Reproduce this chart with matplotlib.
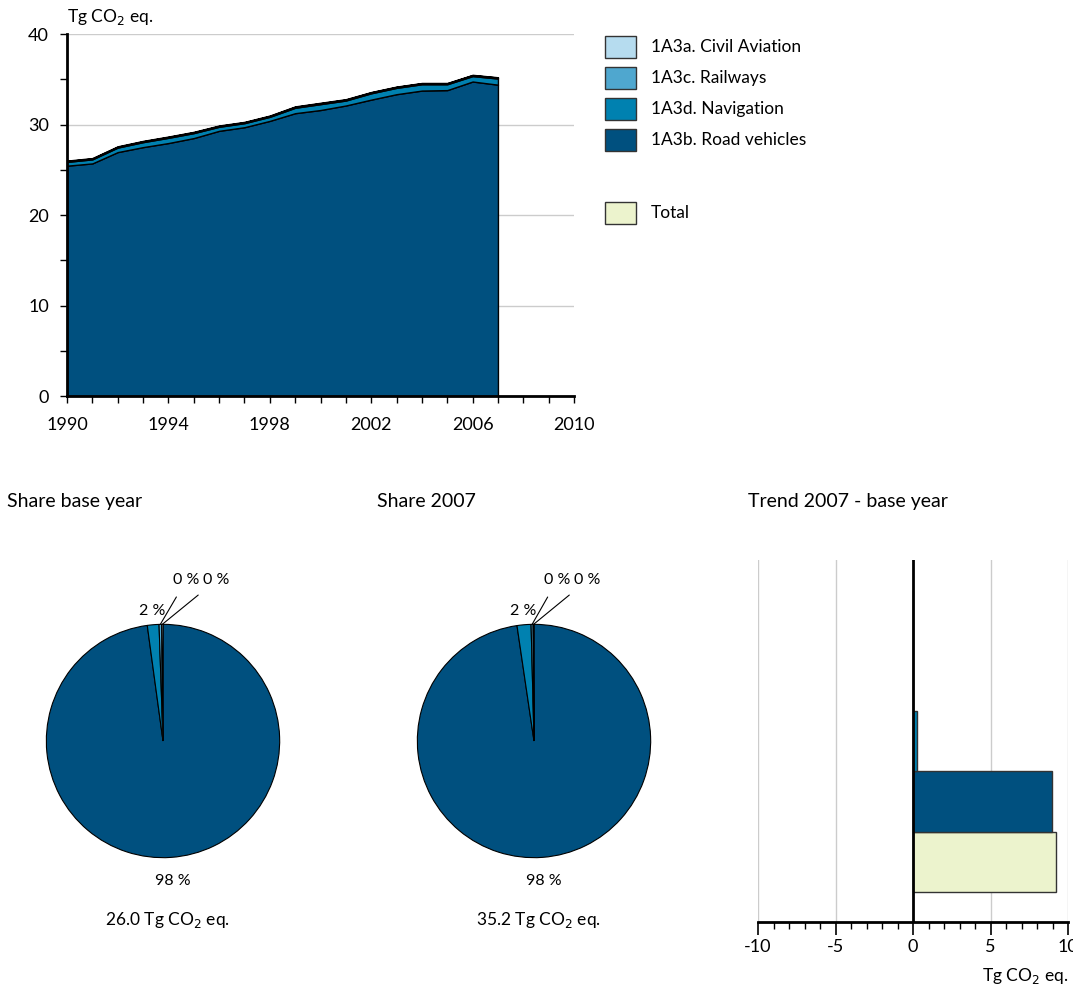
import matplotlib
matplotlib.use('Agg')
import matplotlib.pyplot as plt
import numpy as np
from matplotlib.patches import Patch
from matplotlib.ticker import MultipleLocator

plt.rcParams['font.family'] = ['Lato', 'DejaVu Sans']
plt.rcParams['axes.unicode_minus'] = False

years = list(range(1990, 2008))
road = [25.45, 25.7, 26.95, 27.5, 27.95, 28.5, 29.3, 29.7, 30.4, 31.25,
        31.6, 32.1, 32.75, 33.35, 33.75, 33.8, 34.75, 34.4]
navigation = [0.42, 0.45, 0.5, 0.55, 0.58, 0.55, 0.45, 0.45, 0.45, 0.6,
              0.65, 0.55, 0.7, 0.7, 0.7, 0.65, 0.6, 0.68]
railways = [0.09, 0.09, 0.09, 0.09, 0.09, 0.09, 0.09, 0.09, 0.09, 0.1,
            0.1, 0.1, 0.1, 0.1, 0.1, 0.1, 0.1, 0.1]
aviation = [0.05, 0.05, 0.05, 0.05, 0.05, 0.05, 0.05, 0.05, 0.05, 0.05,
            0.05, 0.05, 0.04, 0.04, 0.04, 0.04, 0.04, 0.04]
year_ticks = [1990, 1994, 1998, 2002, 2006, 2010]

names = ['1A3b. Road vehicles', '1A3d. Navigation', '1A3c. Railways', '1A3a. Civil Aviation']
colors = ['#00507f', '#0081b0', '#4fa7cf', '#b6dcef']
total_color = '#ecf3cd'
grid_color = '#cccccc'
unit = 'Tg CO$_2$ eq.'

series = [road, navigation, railways, aviation]
total = np.sum(series, axis=0)

fig = plt.figure(figsize=(10.73, 9.89), dpi=100)

# --- stacked area ---
ax = fig.add_axes([67 / 1073, 1 - 396 / 989, 507 / 1073, 362 / 989])
ax.stackplot(years, *series, colors=colors, edgecolor='black', linewidth=1)
ax.set_xlim(1990, 2010)
ax.set_ylim(0, 40)
ax.set_xticks(year_ticks)
ax.xaxis.set_minor_locator(MultipleLocator(1))
ax.yaxis.set_major_locator(MultipleLocator(10))
ax.yaxis.set_minor_locator(MultipleLocator(5))
ax.tick_params(which='both', direction='out', length=5, width=1, labelsize=13)
ax.tick_params(axis='x', pad=10)
ax.tick_params(axis='y', pad=8)
ax.grid(axis='y', color=grid_color, linewidth=1)
ax.set_axisbelow(True)
for s in ['top', 'right']:
    ax.spines[s].set_visible(False)
for s in ['left', 'bottom']:
    ax.spines[s].set_linewidth(2)
ax.text(0, 1.02, unit, transform=ax.transAxes, fontsize=12.5, va='bottom')

legend_kw = dict(loc='upper left', frameon=False, fontsize=12.5, handlelength=1.8,
                 handleheight=1.6, handletextpad=0.85)
handles = [Patch(facecolor=c, edgecolor='#333333', label=n) for c, n in zip(colors, names)][::-1]
fig.legend(handles=handles, bbox_to_anchor=(589 / 1073, 1 - 20 / 989),
           labelspacing=0.5, **legend_kw)
fig.legend(handles=[Patch(facecolor=total_color, edgecolor='#333333', label='Total')],
           bbox_to_anchor=(589 / 1073, 1 - 186 / 989), **legend_kw)

# --- pies ---
def draw_pie(left, idx, title, title_x):
    pa = fig.add_axes([left / 1073, 1 - 860 / 989, 238 / 1073, 238 / 989])
    vals = [s[idx] for s in series]
    wedges, _ = pa.pie(vals, colors=colors, startangle=90, counterclock=False,
                       wedgeprops=dict(edgecolor='black', linewidth=0.8))
    pa.set_aspect('equal')
    tot = sum(vals)
    pct = [round(v / tot * 100) for v in vals]
    # road and navigation labels
    for w, p in list(zip(wedges, pct))[:2]:
        ang = np.deg2rad((w.theta1 + w.theta2) / 2)
        r = 1.2 if p > 50 else 1.12
        pa.text(r * np.cos(ang), r * np.sin(ang), '%d %%' % p, ha='center', va='center',
                fontsize=11.5)
    # small slices with leader lines
    for k, (w, p) in enumerate(list(zip(wedges, pct))[2:]):
        ang = np.deg2rad((w.theta1 + w.theta2) / 2)
        pa.annotate('%d %%' % p, xy=(np.cos(ang), np.sin(ang)),
                    xytext=(0.2 + 0.26 * k, 1.38), ha='center', va='center', fontsize=11.5,
                    arrowprops=dict(arrowstyle='-', color='black', linewidth=0.8,
                                    shrinkA=6, shrinkB=0))
    pa.text(0.04, -1.53, '%.1f ' % tot + unit, ha='center', va='center', fontsize=12.5)
    pa.set_xlim(-1.02, 1.02)
    pa.set_ylim(-1.02, 1.02)
    fig.text(title_x / 1073, 1 - 502 / 989, title, fontsize=14, va='center')

draw_pie(44, 0, 'Share base year', 7)
draw_pie(415, -1, 'Share 2007', 377)

# --- trend bars ---
tx = fig.add_axes([758 / 1073, 1 - 922 / 989, 310 / 1073, 362 / 989])
trend = [s[-1] - s[0] for s in series]
bar_vals = [total[-1] - total[0]] + trend
bar_cols = [total_color] + colors
tx.barh(range(len(bar_vals)), bar_vals, height=1.0, color=bar_cols,
        edgecolor='#333333', linewidth=1)
tx.set_xlim(-10, 10)
tx.set_ylim(-1, 5)
tx.xaxis.set_major_locator(MultipleLocator(5))
tx.xaxis.set_minor_locator(MultipleLocator(1))
tx.tick_params(axis='x', which='major', direction='out', length=9, width=1.2, labelsize=13)
tx.tick_params(axis='x', which='minor', direction='out', length=5, width=1)
tx.set_yticks([])
for xv in [-10, -5, 5, 10]:
    tx.axvline(xv, color=grid_color, linewidth=1, zorder=0)
tx.axvline(0, color='black', linewidth=2)
for s in ['top', 'right', 'left']:
    tx.spines[s].set_visible(False)
tx.spines['bottom'].set_linewidth(2)
tx.text(1.0, -0.15, unit, transform=tx.transAxes, ha='right', va='center', fontsize=12.5)
fig.text(748 / 1073, 1 - 502 / 989, 'Trend 2007 - base year', fontsize=14, va='center')

fig.savefig('out.png', dpi=100)
